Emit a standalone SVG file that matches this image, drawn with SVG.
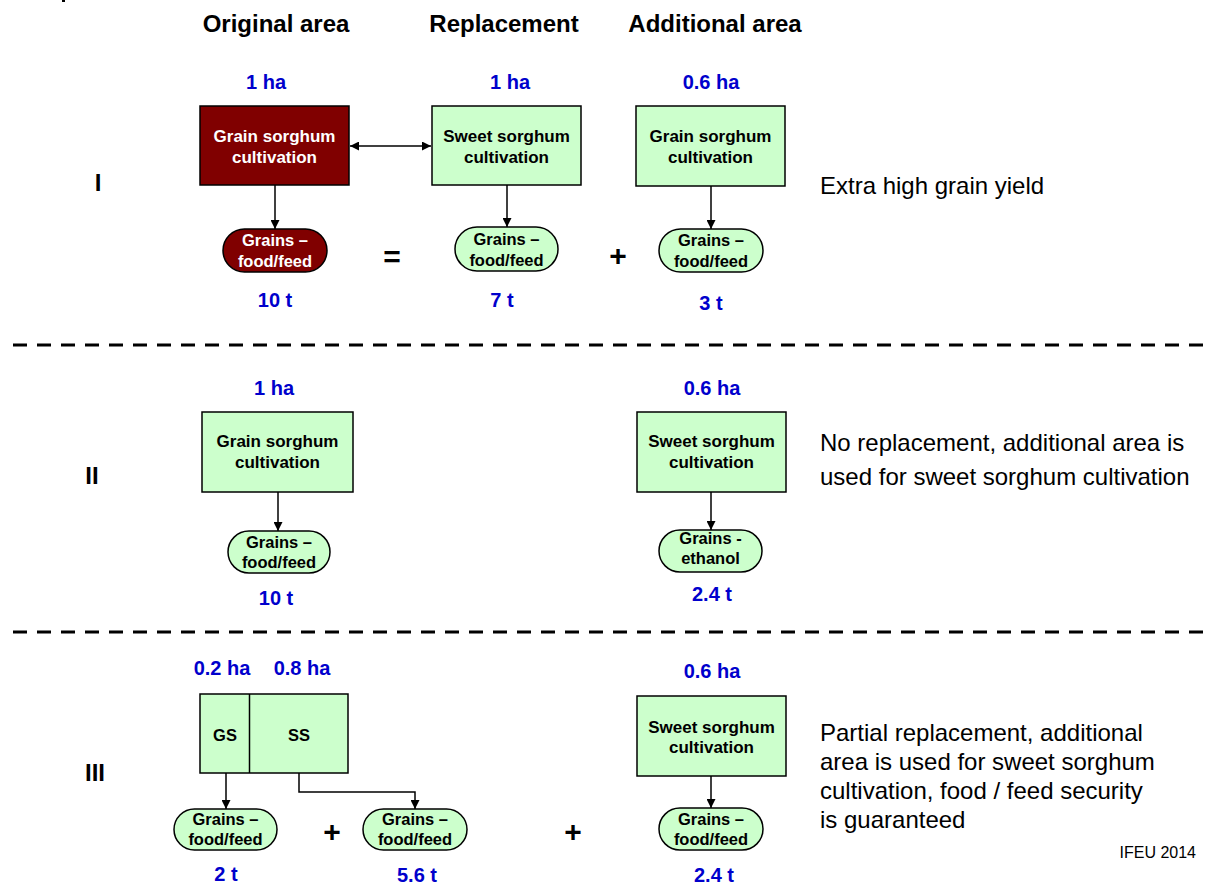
<svg xmlns="http://www.w3.org/2000/svg" width="1209" height="885" viewBox="0 0 1209 885">
  <defs>
    <marker id="arr" viewBox="0 0 10 10" refX="10" refY="5" markerWidth="9" markerHeight="9" markerUnits="userSpaceOnUse" orient="auto-start-reverse">
      <path d="M0,0 L10,5 L0,10 z" fill="#000"/>
    </marker>
    <style>
      text { font-family: "Liberation Sans", Arial, sans-serif; }
      .hdr { font-size: 24px; font-weight: bold; fill: #000; text-anchor: middle; }
      .qty { font-size: 20px; font-weight: bold; fill: #0000CC; text-anchor: middle; }
      .box { fill: #CCFFCC; stroke: #000; stroke-width: 1.5; }
      .boxdark { fill: #800000; stroke: #000; stroke-width: 1.5; }
      .lbl { font-size: 17px; font-weight: bold; fill: #000; text-anchor: middle; }
      .lbl-w { font-size: 17px; font-weight: bold; fill: #fff; text-anchor: middle; }
      .pl { font-size: 16.5px; font-weight: bold; fill: #000; text-anchor: middle; }
      .pl-w { font-size: 16.5px; font-weight: bold; fill: #fff; text-anchor: middle; }
      .row { font-size: 24px; font-weight: bold; fill: #000; text-anchor: middle; }
      .op { font-size: 30px; font-weight: bold; fill: #000; text-anchor: middle; }
      .note { font-size: 24px; fill: #000; }
      .sep { stroke: #000; stroke-width: 3; stroke-dasharray: 14 10; }
      .conn { stroke: #000; stroke-width: 1.5; fill: none; marker-end: url(#arr); }
    </style>
  </defs>

  <rect width="1209" height="885" fill="#fff"/>
  <rect x="62" y="0" width="3" height="2" fill="#000"/>

  <!-- column headers -->
  <g id="headers">
    <text class="hdr" x="276" y="32">Original area</text>
    <text class="hdr" x="504" y="32">Replacement</text>
    <text class="hdr" x="715" y="32">Additional area</text>
  </g>

  <!-- row labels -->
  <g id="row-labels">
    <text class="row" x="98" y="191">I</text>
    <text class="row" x="92" y="484">II</text>
    <text class="row" x="95" y="781">III</text>
  </g>

  <!-- separators -->
  <g id="separators">
    <line class="sep" x1="13" y1="345" x2="1209" y2="345"/>
    <line class="sep" x1="13" y1="632" x2="1209" y2="632"/>
  </g>

  <!-- Row I -->
  <g id="r1-gs">
    <text class="qty" x="266" y="89">1 ha</text>
    <rect class="boxdark" x="200" y="106" width="149" height="79"/>
    <text class="lbl-w" x="274.5" y="142">Grain sorghum</text>
    <text class="lbl-w" x="274.5" y="163">cultivation</text>
  </g>
  <g id="r1-gs-out">
    <rect x="223" y="229" width="104" height="43" rx="21.5" fill="#800000" stroke="#000" stroke-width="1.5"/>
    <text class="pl-w" x="275" y="246">Grains –</text>
    <text class="pl-w" x="275" y="267">food/feed</text>
    <text class="qty" x="275" y="307">10 t</text>
  </g>
  <g id="r1-ss">
    <text class="qty" x="510" y="89">1 ha</text>
    <rect class="box" x="432" y="106" width="149" height="79"/>
    <text class="lbl" x="506.5" y="142">Sweet sorghum</text>
    <text class="lbl" x="506.5" y="163">cultivation</text>
  </g>
  <g id="r1-ss-out">
    <rect class="box" x="455" y="227" width="103" height="44" rx="22"/>
    <text class="pl" x="506.5" y="245">Grains –</text>
    <text class="pl" x="506.5" y="266">food/feed</text>
    <text class="qty" x="502" y="307">7 t</text>
  </g>
  <g id="r1-add">
    <text class="qty" x="711" y="89">0.6 ha</text>
    <rect class="box" x="636" y="106" width="149" height="80"/>
    <text class="lbl" x="710.5" y="142">Grain sorghum</text>
    <text class="lbl" x="710.5" y="163">cultivation</text>
  </g>
  <g id="r1-add-out">
    <rect class="box" x="659" y="229" width="104" height="43" rx="21.5"/>
    <text class="pl" x="711" y="246">Grains –</text>
    <text class="pl" x="711" y="267">food/feed</text>
    <text class="qty" x="711" y="310">3 t</text>
  </g>
  <g id="r1-ops">
    <text class="op" x="392" y="267">=</text>
    <text class="op" x="618" y="266">+</text>
  </g>
  <g id="r1-note">
    <text class="note" x="820" y="194">Extra high grain yield</text>
  </g>

  <!-- Row II -->
  <g id="r2-gs">
    <text class="qty" x="274" y="395">1 ha</text>
    <rect class="box" x="202" y="412" width="151" height="80"/>
    <text class="lbl" x="277.5" y="447">Grain sorghum</text>
    <text class="lbl" x="277.5" y="468">cultivation</text>
  </g>
  <g id="r2-gs-out">
    <rect class="box" x="228" y="531" width="102" height="42" rx="21"/>
    <text class="pl" x="279" y="548">Grains –</text>
    <text class="pl" x="279" y="568">food/feed</text>
    <text class="qty" x="276" y="605">10 t</text>
  </g>
  <g id="r2-add">
    <text class="qty" x="712" y="395">0.6 ha</text>
    <rect class="box" x="637" y="412" width="149" height="80"/>
    <text class="lbl" x="711.5" y="447">Sweet sorghum</text>
    <text class="lbl" x="711.5" y="468">cultivation</text>
  </g>
  <g id="r2-add-out">
    <rect class="box" x="659" y="530" width="103" height="42" rx="21"/>
    <text class="pl" x="710.5" y="544">Grains -</text>
    <text class="pl" x="710.5" y="564">ethanol</text>
    <text class="qty" x="712" y="601">2.4 t</text>
  </g>
  <g id="r2-note">
    <text class="note" x="820" y="451">No replacement, additional area is</text>
    <text class="note" x="820" y="485">used for sweet sorghum cultivation</text>
  </g>

  <!-- Row III -->
  <g id="r3-split">
    <text class="qty" x="222" y="675">0.2 ha</text>
    <text class="qty" x="302" y="675">0.8 ha</text>
    <rect class="box" x="200" y="694" width="148" height="79"/>
    <line x1="249.5" y1="694" x2="249.5" y2="773" stroke="#000" stroke-width="1.5"/>
    <text class="pl" x="225" y="741">GS</text>
    <text class="pl" x="299" y="741">SS</text>
  </g>
  <g id="r3-gs-out">
    <rect class="box" x="174" y="809" width="103" height="41" rx="20.5"/>
    <text class="pl" x="225.5" y="825">Grains –</text>
    <text class="pl" x="225.5" y="845">food/feed</text>
    <text class="qty" x="226" y="881">2 t</text>
  </g>
  <g id="r3-ss-out">
    <rect class="box" x="363" y="809" width="104" height="41" rx="20.5"/>
    <text class="pl" x="415" y="825">Grains –</text>
    <text class="pl" x="415" y="845">food/feed</text>
    <text class="qty" x="417" y="882">5.6 t</text>
  </g>
  <g id="r3-add">
    <text class="qty" x="712" y="678">0.6 ha</text>
    <rect class="box" x="637" y="696" width="149" height="80"/>
    <text class="lbl" x="711.5" y="733">Sweet sorghum</text>
    <text class="lbl" x="711.5" y="753">cultivation</text>
  </g>
  <g id="r3-add-out">
    <rect class="box" x="659" y="808" width="104" height="42" rx="21"/>
    <text class="pl" x="711" y="825">Grains –</text>
    <text class="pl" x="711" y="845">food/feed</text>
    <text class="qty" x="714" y="882">2.4 t</text>
  </g>
  <g id="r3-ops">
    <text class="op" x="332" y="842">+</text>
    <text class="op" x="573" y="842">+</text>
  </g>
  <g id="r3-note">
    <text class="note" x="820" y="741">Partial replacement, additional</text>
    <text class="note" x="820" y="770">area is used for sweet sorghum</text>
    <text class="note" x="820" y="799">cultivation, food / feed security</text>
    <text class="note" x="820" y="828">is guaranteed</text>
  </g>

  <g id="credit">
    <text x="1196" y="858" font-size="16" text-anchor="end" fill="#000">IFEU 2014</text>
  </g>

  <!-- connectors -->
  <g id="connectors">
    <line class="conn" x1="350" y1="146" x2="431" y2="146" marker-start="url(#arr)"/>
    <line class="conn" x1="275" y1="185" x2="275" y2="229"/>
    <line class="conn" x1="507" y1="185" x2="507" y2="227"/>
    <line class="conn" x1="711" y1="186" x2="711" y2="229"/>
    <line class="conn" x1="278" y1="492" x2="278" y2="531"/>
    <line class="conn" x1="711" y1="492" x2="711" y2="530"/>
    <line class="conn" x1="226" y1="773" x2="226" y2="809"/>
    <polyline class="conn" points="299,773 299,792 415,792 415,809"/>
    <line class="conn" x1="711" y1="776" x2="711" y2="808"/>
  </g>
</svg>
